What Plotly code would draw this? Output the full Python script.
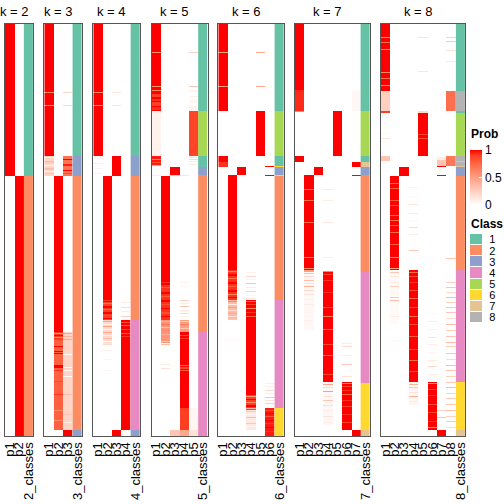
import plotly.graph_objects as go

N_SAMPLES = 412
K_VALUES = [2, 3, 4, 5, 6, 7, 8]
CLASS_LABELS = ["1", "2", "3", "4", "5", "6", "7", "8"]
CLASS_COLORS = ["#66C2A5", "#FC8D62", "#8DA0CB", "#E78AC3",
                "#A6D854", "#FFD92F", "#E5C494", "#B3B3B3"]

# membership probabilities per column, as (start_row, end_row, prob) ranges
# or (row, prob) single-sample stripes, applied in order (later wins)
K2_PROB = [
    [(0, 152, 1)],
    [(152, 412, 1)],
]
K2_CLASS = [(0, 152, 1), (152, 412, 2)]

K3_PROB = [
    [(0, 132, 1), (68, 0.6), (81, 0.6), (132, 152, 0.22), (133, 0.03), (137, 0.35), (138, 0.3),
     (141, 0.02), (144, 0.35), (145, 0.3), (147, 0.05), (149, 0.3), (150, 0.25)],
    [(152, 308, 1), (308, 316, 0.9), (316, 406, 0.78), (309, 0.55), (311, 1), (313, 0.6),
     (322, 1), (327, 1), (329, 1), (341, 1), (342, 1), (343, 1), (346, 0.92), (357, 0.85),
     (370, 0.92), (386, 0.6), (396, 0.6)],
    [(68, 0.22), (81, 0.22), (132, 152, 0.7), (135, 1), (140, 0.95), (141, 0.95), (146, 1),
     (149, 0.85), (308, 406, 0.22), (309, 0.45), (312, 0.4), (315, 0.45), (330, 0.0),
     (343, 0.0), (346, 0.05), (352, 0.0), (370, 0.35), (390, 0.3), (398, 0.1), (406, 412, 1)],
]
K3_CLASS = [(0, 132, 1), (132, 152, 3), (152, 406, 2), (406, 412, 3)]

K4_PROB = [
    [(0, 132, 1), (68, 0.6), (81, 0.6), (134, 0.08), (139, 0.1), (144, 0.06), (149, 0.08)],
    [(152, 276, 1), (276, 296, 0.9), (277, 1), (279, 0.7), (282, 1), (283, 1), (285, 0.75),
     (288, 1), (289, 1), (291, 0.85), (294, 1), (296, 321, 0.2), (297, 0.45), (300, 0.1),
     (302, 0.5), (305, 0.05), (308, 0.45), (311, 0.1), (314, 0.35), (317, 0.0), (319, 0.15),
     (326, 0.08), (335, 0.06), (346, 0.05)],
    [(68, 0.15), (81, 0.15), (132, 152, 1), (406, 412, 1)],
    [(278, 0.1), (283, 0.2), (287, 0.1), (292, 0.25), (296, 406, 1), (298, 0.85), (301, 0.75),
     (305, 0.9), (309, 0.8), (312, 0.92)],
]
K4_CLASS = [(0, 132, 1), (132, 152, 3), (152, 296, 2), (296, 406, 4), (406, 412, 3)]

K5_PROB = [
    [(0, 87, 1), (28, 0.55), (62, 0.55), (66, 0.6), (70, 73, 0.9), (75, 77, 0.92), (78, 82, 0.9),
     (83, 86, 0.92), (87, 132, 0.07), (132, 142, 0.96), (135, 0.6), (138, 0.85), (141, 0.5),
     (151, 0.1)],
    [(152, 258, 1), (258, 296, 0.92), (259, 261, 1), (263, 0.8), (268, 270, 1), (272, 0.8),
     (276, 278, 1), (280, 0.85), (284, 1), (288, 290, 0.85), (292, 1), (296, 319, 0.55),
     (297, 0.4), (300, 0.7), (303, 0.3), (306, 0.6), (310, 0.4), (314, 0.5), (317, 0.3),
     (320, 0.35), (340, 0.1), (344, 0.15)],
    [(143, 151, 1), (151, 0.3), (406, 412, 0.3)],
    [(151, 0.15), (258, 0.08), (262, 0.05), (276, 0.25), (279, 0.1), (282, 0.3), (286, 0.15),
     (289, 0.2), (292, 0.1), (296, 308, 0.5), (297, 0.25), (300, 0.65), (304, 0.3),
     (308, 384, 1), (311, 0.85), (314, 0.9), (341, 0.75), (343, 345, 0.85), (346, 0.8),
     (384, 406, 0.9), (406, 412, 0.45)],
    [(28, 0.25), (62, 0.3), (66, 68, 0.05), (72, 0.08), (76, 79, 0.05), (82, 86, 0.07),
     (87, 132, 0.88), (133, 0.15), (135, 0.2), (137, 0.1), (140, 0.12), (384, 406, 0.05),
     (406, 412, 0.15)],
]
K5_CLASS = [(0, 87, 1), (87, 132, 5), (132, 143, 1), (143, 151, 3), (151, 308, 2), (308, 412, 4)]

K6_PROB = [
    [(0, 87, 1), (28, 0.5), (62, 0.5), (132, 138, 1), (138, 143, 0.92)],
    [(151, 246, 1), (246, 276, 0.92), (247, 0.6), (250, 252, 1), (254, 0.7), (258, 260, 1),
     (262, 0.8), (266, 268, 1), (270, 0.6), (273, 1), (276, 296, 0.35), (277, 0.6), (280, 0.1),
     (283, 0.5), (286, 0.2), (289, 0.45), (292, 0.15), (295, 0.3), (316, 0.05)],
    [(143, 151, 1)],
    [(248, 0.08), (252, 0.2), (255, 0.05), (259, 0.3), (263, 0.1), (267, 0.25), (271, 0.05),
     (274, 0.15), (276, 371, 1), (277, 0.75), (280, 0.9), (284, 0.65), (288, 0.92), (292, 0.8),
     (371, 386, 0.9), (372, 0.5), (375, 1), (378, 0.6), (381, 383, 1), (384, 0.4),
     (386, 406, 0.12), (387, 0.3), (390, 0.05), (393, 0.35), (396, 0.1), (399, 0.3), (402, 0.05)],
    [(28, 0.45), (62, 0.45), (87, 132, 1)],
    [(142, 1), (151, 1), (359, 0.08), (362, 0.1), (366, 0.2), (369, 0.1), (373, 0.3), (376, 0.15),
     (379, 0.25), (384, 412, 0.96), (386, 0.85), (389, 1), (392, 0.8), (396, 1), (399, 0.9),
     (403, 1), (407, 0.92)],
]
K6_CLASS = [(0, 87, 1), (87, 132, 5), (132, 142, 1), (142, 143, 6), (143, 151, 3),
            (151, 152, 6), (152, 276, 2), (276, 384, 4), (384, 412, 6)]

K7_PROB = [
    [(0, 66, 1), (66, 87, 0.93), (87, 0.6), (132, 138, 1)],
    [(151, 246, 1), (165, 0.75), (176, 0.75), (198, 0.75), (233, 0.7), (244, 0.6),
     (246, 306, 0.04), (246, 248, 0.5), (249, 0.3), (252, 0.2), (256, 0.35), (259, 0.15),
     (262, 0.4), (266, 0.2), (270, 0.15), (275, 0.08), (280, 0.1), (288, 0.06), (296, 0.08)],
    [(143, 151, 1)],
    [(165, 0.12), (176, 0.1), (198, 0.12), (233, 0.1), (247, 358, 1), (247, 0.6), (250, 0.88),
     (256, 0.92), (268, 0.92), (283, 0.85), (292, 0.65), (305, 0.75), (320, 0.88), (331, 0.75),
     (350, 0.88), (358, 401, 0.04), (360, 0.45), (363, 0.2), (367, 0.5), (372, 0.15),
     (376, 0.3), (381, 0.2), (386, 0.1), (392, 0.15), (398, 0.1)],
    [(87, 132, 1)],
    [(319, 0.1), (322, 0.2), (331, 0.1), (340, 0.3), (352, 0.15), (358, 406, 1), (359, 0.6),
     (362, 0.88), (366, 0.92), (370, 0.75), (376, 0.92), (382, 0.88), (390, 0.92), (398, 0.88)],
    [(66, 87, 0.04), (138, 143, 1), (151, 1), (406, 412, 1)],
]
K7_CLASS = [(0, 87, 1), (87, 132, 5), (132, 138, 1), (138, 143, 7), (143, 151, 3),
            (151, 248, 2), (248, 359, 4), (359, 406, 6), (406, 412, 7)]

K8_PROB = [
    [(0, 67, 1), (13, 0.6), (18, 0.7), (25, 0.6), (48, 0.6), (54, 0.7), (61, 0.6),
     (67, 87, 0.25), (87, 89, 0.9), (109, 0.05), (114, 0.15), (132, 137, 0.3)],
    [(152, 246, 1), (159, 0.75), (164, 0.8), (176, 0.8), (181, 0.85), (191, 0.75), (196, 0.7),
     (201, 0.8), (208, 0.75), (220, 0.8), (233, 0.6), (244, 0.5), (246, 300, 0.03),
     (248, 0.3), (252, 0.15), (258, 0.1), (262, 0.25), (268, 0.05), (273, 0.3), (276, 0.35),
     (292, 0.1), (316, 0.05)],
    [(143, 152, 1)],
    [(163, 0.08), (172, 0.05), (180, 0.15), (189, 0.12), (196, 0.05), (203, 0.2), (210, 0.1),
     (226, 0.3), (246, 358, 1), (248, 0.75), (252, 0.85), (258, 0.92), (266, 0.85), (274, 0.75),
     (283, 0.88), (292, 0.75), (300, 0.85), (312, 0.8), (325, 0.85), (336, 0.75), (347, 0.88),
     (358, 381, 0.05), (360, 0.4), (363, 0.3), (368, 0.15), (372, 0.4), (377, 0.1)],
    [(13, 0.15), (47, 0.15), (87, 89, 0.2), (89, 132, 1), (110, 0.88), (114, 0.85)],
    [(289, 0.05), (297, 0.1), (305, 0.08), (313, 0.15), (320, 0.1), (328, 0.05), (336, 0.12),
     (342, 0.2), (350, 0.1), (358, 406, 1), (359, 0.55), (365, 0.88), (371, 0.92), (380, 0.85),
     (388, 0.88), (397, 0.92), (403, 0.6)],
    [(133, 136, 0.1), (136, 142, 0.3), (142, 1), (151, 1), (386, 0.2), (393, 0.3), (406, 412, 1)],
    [(13, 0.25), (17, 0.3), (26, 0.15), (37, 0.1), (67, 87, 0.72), (132, 142, 0.68), (234, 0.3),
     (258, 0.25), (263, 0.3), (268, 0.2), (273, 0.35), (278, 0.25), (283, 0.3), (288, 0.3),
     (294, 0.2), (300, 0.35), (306, 0.25), (312, 0.3), (318, 0.35), (322, 0.25), (329, 0.3),
     (335, 0.2), (341, 0.35), (346, 0.3), (352, 0.25), (358, 0.3), (363, 0.35), (369, 0.25),
     (374, 0.3), (380, 0.3), (386, 0.35), (392, 0.25), (397, 0.3), (403, 0.2)],
]
K8_CLASS = [(0, 67, 1), (67, 87, 8), (87, 89, 1), (89, 132, 5), (132, 137, 8), (137, 138, 7),
            (138, 142, 8), (142, 143, 7), (143, 152, 3), (152, 246, 2), (246, 358, 4),
            (358, 406, 6), (406, 412, 7)]

PROB_SPECS = [K2_PROB, K3_PROB, K4_PROB, K5_PROB, K6_PROB, K7_PROB, K8_PROB]
CLASS_SPECS = [K2_CLASS, K3_CLASS, K4_CLASS, K5_CLASS, K6_CLASS, K7_CLASS, K8_CLASS]

# ---------------- layout ----------------
W = H = 504
PANEL_X = [(5, 33.3), (44.3, 82), (93.3, 140), (151.5, 207.5),
           (218.3, 284), (295, 370), (380.7, 465.3)]
BODY_TOP, BODY_BOTTOM = 24, 436
FONT = "Liberation Sans, Arial, sans-serif"

PROB_SCALE = [[0, "#FFFFFF"], [0.25, "#FFCFBF"], [0.5, "#FF9E81"],
              [0.75, "#FF6846"], [0.9, "#FF3E22"], [1, "#FF0000"]]
CLASS_SCALE = []
for i, c in enumerate(CLASS_COLORS):
    CLASS_SCALE.append([i / 8, c])
    CLASS_SCALE.append([(i + 1) / 8, c])


def expand(spec, n=N_SAMPLES):
    v = [0] * n
    for s in spec:
        if len(s) == 3:
            a, b, val = s
        else:
            a, val = s
            b = a + 1
        for r in range(a, b):
            v[r] = val
    return v


fig = go.Figure()
rows = list(range(N_SAMPLES))
ydom = [1 - BODY_BOTTOM / H, 1 - BODY_TOP / H]

for i, k in enumerate(K_VALUES):
    ax = "" if i == 0 else str(i + 1)
    cols = [expand(c) for c in PROB_SPECS[i]]
    ncol = len(cols)
    z = [[cols[c][r] for c in range(ncol)] for r in rows]
    pnames = [f"p{j + 1}" for j in range(ncol)]
    cname = f"{k}_classes"
    trace = dict(z=z, x=list(range(ncol)), y=rows, colorscale=PROB_SCALE, zmin=0, zmax=1,
                 xaxis="x" + ax, yaxis="y" + ax, hoverinfo="skip", showscale=(i == 0))
    if i == 0:
        trace["colorbar"] = dict(
            x=470 / W, xanchor="left", y=1 - 205 / H, yanchor="bottom",
            len=55, lenmode="pixels", thickness=12, thicknessmode="pixels",
            tickvals=[0, 0.5, 1], ticktext=["0", "0.5", "1"], ticks="inside",
            tickcolor="white", ticklen=3, outlinewidth=0, xpad=0, ypad=0,
            tickfont=dict(size=12, family=FONT, color="black"))
    fig.add_trace(go.Heatmap(**trace))
    cl = expand(CLASS_SPECS[i])
    fig.add_trace(go.Heatmap(z=[[v] for v in cl], x=[ncol], y=rows, colorscale=CLASS_SCALE,
                             zmin=0.5, zmax=8.5, showscale=False, hoverinfo="skip",
                             xaxis="x" + ax, yaxis="y" + ax))
    x0, x1 = PANEL_X[i]
    fig.layout["xaxis" + ax] = dict(
        domain=[x0 / W, x1 / W], anchor="y" + ax, range=[-0.5, ncol + 0.5],
        tickmode="array", tickvals=list(range(ncol + 1)), ticktext=pnames + [cname],
        tickangle=-90, tickfont=dict(size=13, family=FONT, color="black"),
        showline=True, mirror=True, linecolor="#555", linewidth=1, automargin=False,
        showgrid=False, zeroline=False, ticks="", fixedrange=True)
    fig.layout["yaxis" + ax] = dict(
        domain=ydom, anchor="x" + ax, range=[N_SAMPLES - 0.5, -0.5], automargin=False,
        showticklabels=False, showline=True, mirror=True, linecolor="#555", linewidth=1,
        showgrid=False, zeroline=False, ticks="")
    fig.add_annotation(text=f"k = {k}", xref="x" + ax, x=(ncol - 1) / 2, yref="paper",
                       y=1 - 11 / H, yanchor="middle", showarrow=False,
                       font=dict(size=13, family=FONT, color="black"))

# legend titles
fig.add_annotation(text="<b>Prob</b>", xref="paper", x=469 / W, xanchor="left",
                   yref="paper", y=1 - 134 / H, yanchor="middle", showarrow=False,
                   font=dict(size=12, family=FONT, color="black"))

# class legend
fig.add_trace(go.Heatmap(z=[[j + 1] for j in range(8)], x=[0], y=list(range(8)),
                         colorscale=CLASS_SCALE, zmin=0.5, zmax=8.5, showscale=False,
                         ygap=1, hoverinfo="skip", xaxis="x8", yaxis="y8"))
fig.layout["xaxis8"] = dict(domain=[470 / W, 482 / W], anchor="y8", showticklabels=False,
                            showgrid=False, zeroline=False, ticks="", automargin=False,
                            range=[-0.5, 0.5])
fig.layout["yaxis8"] = dict(domain=[1 - 323 / H, 1 - 234 / H], anchor="x8", side="right",
                            range=[7.5, -0.5], showgrid=False, zeroline=False,
                            ticks="outside", ticklen=4, tickcolor="rgba(0,0,0,0)",
                            tickmode="array", tickvals=list(range(8)), ticktext=CLASS_LABELS,
                            automargin=False, showline=False,
                            tickfont=dict(size=11, family=FONT, color="black"))
fig.add_annotation(text="<b>Class</b>", xref="paper", x=469 / W, xanchor="left",
                   yref="paper", y=1 - 224 / H, yanchor="middle", showarrow=False,
                   font=dict(size=12, family=FONT, color="black"))

fig.update_layout(width=W, height=H,
                  margin=dict(l=0, r=0, t=0, b=0, pad=0, autoexpand=False),
                  paper_bgcolor="white", plot_bgcolor="white", showlegend=False)

fig.write_html("out.html", config={"displayModeBar": False},
               post_script="document.body.style.margin='0';")
